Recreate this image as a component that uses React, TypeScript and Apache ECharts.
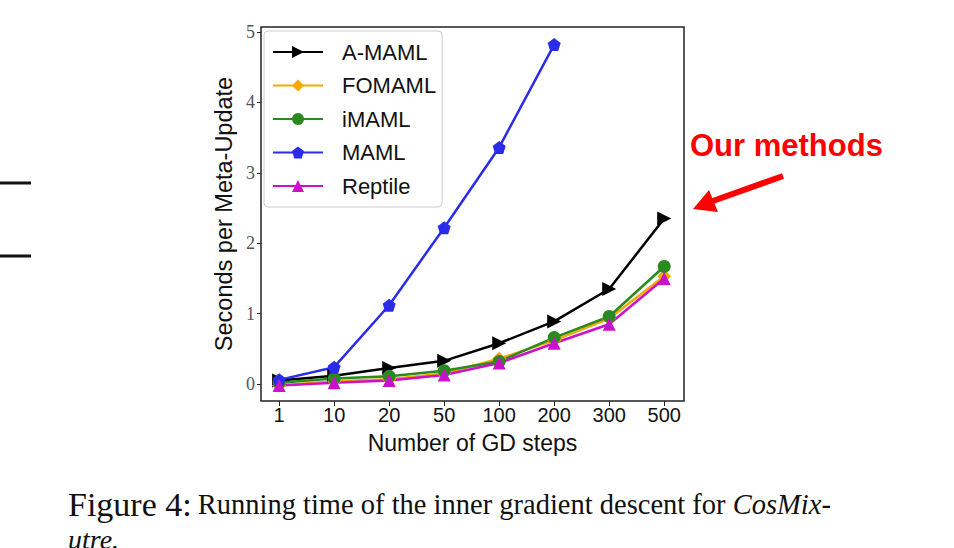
import React, { useEffect, useRef } from "react";
import * as echarts from "echarts";

const categories = ["1", "10", "20", "50", "100", "200", "300", "500"];
const aMaml = [0.05, 0.12, 0.23, 0.33, 0.58, 0.89, 1.35, 2.35];
const foMaml = [-0.02, 0.04, 0.07, 0.15, 0.36, 0.62, 0.93, 1.53];
const iMaml = [0.02, 0.08, 0.11, 0.19, 0.32, 0.66, 0.96, 1.67];
const maml = [0.06, 0.24, 1.12, 2.22, 3.36, 4.82];
const reptile = [-0.02, 0.02, 0.05, 0.13, 0.3, 0.58, 0.85, 1.5];
const yTicks = [0, 1, 2, 3, 4, 5];

const pentagon =
  "path://M0,-10 L9.51,-3.09 L5.88,8.09 L-5.88,8.09 L-9.51,-3.09 Z";

const toPts = (arr: number[]) => arr.map((v, i) => [i, v]);

export default function App() {
  const ref = useRef<HTMLDivElement>(null);
  useEffect(() => {
    if (!ref.current) return;
    const chart = echarts.init(ref.current, undefined, { renderer: "svg" });
    const sans = "Liberation Sans, Arial, sans-serif";
    const serif = "Liberation Serif, Times New Roman, serif";
    const mk = (
      name: string,
      data: number[],
      color: string,
      symbol: string,
      symbolSize: number,
      extra: any = {}
    ) => ({
      name,
      type: "line",
      data: toPts(data),
      symbol,
      symbolSize,
      showSymbol: true,
      lineStyle: { color, width: 2.5 },
      itemStyle: { color, borderWidth: 0 },
      emphasis: { disabled: true },
      ...extra,
    });
    chart.setOption({
      animation: false,
      backgroundColor: "#ffffff",
      grid: {
        left: 261,
        right: 954 - 684,
        top: 27,
        bottom: 548 - 401,
        show: true,
        borderColor: "#222",
        borderWidth: 1.5,
        backgroundColor: "transparent",
      },
      xAxis: {
        type: "value",
        min: -0.33,
        max: 7.36,
        splitLine: { show: false },
        axisLine: { show: false, onZero: false },
        axisTick: {
          show: true,
          customValues: categories.map((_, i) => i),
          length: 5,
          lineStyle: { color: "#222", width: 1 },
        },
        axisLabel: {
          customValues: categories.map((_, i) => i),
          formatter: (v: number) => categories[Math.round(v)] ?? "",
          color: "#111",
          fontFamily: sans,
          fontSize: 20,
          margin: 4,
        },
        name: "Number of GD steps",
        nameLocation: "middle",
        nameGap: 30,
        nameTextStyle: { fontFamily: sans, fontSize: 23, color: "#111" },
      },
      yAxis: {
        type: "value",
        min: -0.24,
        max: 5.07,
        splitLine: { show: false },
        axisLine: { show: false, onZero: false },
        axisTick: {
          show: true,
          customValues: yTicks,
          length: 4,
          lineStyle: { color: "#222", width: 1 },
        },
        axisLabel: {
          customValues: yTicks,
          color: "#555",
          fontFamily: serif,
          fontSize: 18,
          margin: 6,
        },
        name: "Seconds per Meta-Update",
        nameLocation: "middle",
        nameGap: 25,
        nameTextStyle: { fontFamily: sans, fontSize: 23.5, color: "#111" },
      },
      legend: {
        orient: "vertical",
        left: 264,
        top: 31,
        padding: [10, 6, 10, 8],
        itemGap: 11.5,
        itemWidth: 50,
        itemHeight: 15,
        backgroundColor: "#fff",
        borderColor: "#ccc",
        borderWidth: 1,
        borderRadius: 4,
        textStyle: {
          fontFamily: sans,
          fontSize: 22,
          lineHeight: 22,
          color: "#111",
          padding: [0, 0, 0, 14],
        },
        data: ["A-MAML", "FOMAML", "iMAML", "MAML", "Reptile"],
      },
      series: [
        mk("A-MAML", aMaml, "#000000", "triangle", 14, { symbolRotate: -90 }),
        mk("FOMAML", foMaml, "#f5a800", "diamond", 14),
        mk("iMAML", iMaml, "#2a8a1f", "circle", 13),
        mk("MAML", maml, "#2b2bea", pentagon, 13),
        mk("Reptile", reptile, "#cc11cc", "triangle", 13),
      ],
      graphic: [
        { type: "rect", shape: { x: 0, y: 181.5, width: 31, height: 3 }, style: { fill: "#111" } },
        { type: "rect", shape: { x: 0, y: 254.5, width: 31, height: 3 }, style: { fill: "#111" } },
        {
          type: "text",
          x: 690,
          y: 145,
          style: {
            text: "Our methods",
            fill: "#ff0000",
            font: "bold 31px Liberation Sans, Arial, sans-serif",
            textVerticalAlign: "middle",
          },
        },
        {
          type: "line",
          shape: { x1: 783, y1: 176, x2: 710, y2: 202 },
          style: { stroke: "#ff0000", lineWidth: 6 },
        },
        {
          type: "polygon",
          shape: { points: [[693, 209], [709, 190], [718, 212]] },
          style: { fill: "#ff0000" },
        },
        {
          type: "text",
          x: 68,
          y: 521,
          style: {
            text: "{a|Figure 4:}{b|Running time of the inner gradient descent for }{c|CosMix-}",
            textVerticalAlign: "bottom",
            fill: "#111",
            rich: {
              a: { fontFamily: serif, fontSize: 34, fill: "#111", padding: [0, 6, 0, 0] },
              b: { fontFamily: serif, fontSize: 28.5, fill: "#111" },
              c: { fontFamily: serif, fontSize: 28.5, fontStyle: "italic", fill: "#111" },
            },
          },
        },
        {
          type: "text",
          x: 68,
          y: 525,
          style: {
            text: "utre.",
            fill: "#111",
            font: "italic 28px Liberation Serif, Times New Roman, serif",
            textVerticalAlign: "top",
          },
        },
      ],
    });
    return () => chart.dispose();
  }, []);
  return (
    <div
      ref={ref}
      style={{ position: "fixed", left: 0, top: 0, width: 954, height: 548 }}
    />
  );
}
